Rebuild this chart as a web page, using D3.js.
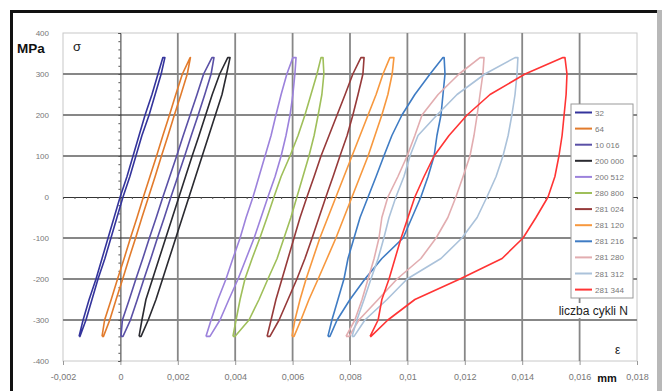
<!DOCTYPE html>
<html>
<head>
<meta charset="utf-8">
<script src="https://cdn.jsdelivr.net/npm/d3@7"></script>
<style>
  html, body { margin: 0; padding: 0; background: #fff; }
  svg { display: block; font-family: "Liberation Sans", Arial, sans-serif; }
</style>
</head>
<body>
<svg id="chart" width="662" height="391"></svg>
<script>
// Stress levels (MPa) at which each branch of a hysteresis loop is sampled
const stressLevels = [-340, -300, -250, -200, -150, -100, -50, 0, 50, 100, 150, 200, 250, 300, 340];

// Number of cycles for each recorded loop
const cycleLabels = ["32", "64", "10 016", "200 000", "200 512", "280 800",
                     "281 024", "281 120", "281 216", "281 280", "281 312", "281 344"];

const loopColors = ["#34349c", "#e27b2c", "#5a50a6", "#2a2a30", "#9c82dc", "#9fbf5a",
                    "#963a3a", "#f7983e", "#3f7cc4", "#e2adb0", "#abc2da", "#ff3434"];

// Strain (in 10^-3) on the loading branch, one value per stress level
const loadingBranch = [
  [-1.44, -1.30, -1.09, -0.85, -0.64, -0.43, -0.22, -0.01, 0.23, 0.44, 0.65, 0.86, 1.10, 1.31, 1.48],
  [-0.64, -0.55, -0.32, -0.10, 0.13, 0.35, 0.58, 0.80, 1.03, 1.26, 1.48, 1.71, 1.93, 2.16, 2.43],
  [0.02, 0.07, 0.31, 0.54, 0.78, 1.01, 1.25, 1.48, 1.72, 1.96, 2.19, 2.43, 2.67, 2.90, 3.19],
  [0.65, 0.75, 0.89, 1.12, 1.35, 1.58, 1.81, 2.04, 2.27, 2.50, 2.74, 2.97, 3.20, 3.46, 3.74],
  [2.98, 3.16, 3.40, 3.68, 3.92, 4.17, 4.38, 4.62, 4.83, 5.04, 5.25, 5.42, 5.60, 5.80, 6.01],
  [3.92, 4.03, 4.17, 4.34, 4.59, 4.86, 5.11, 5.35, 5.60, 5.91, 6.19, 6.43, 6.64, 6.85, 6.99],
  [5.11, 5.25, 5.42, 5.63, 5.84, 6.05, 6.26, 6.50, 6.75, 6.99, 7.27, 7.55, 7.83, 8.10, 8.38],
  [5.98, 6.08, 6.26, 6.47, 6.71, 6.95, 7.23, 7.51, 7.79, 8.07, 8.35, 8.63, 8.91, 9.15, 9.39],
  [7.23, 7.37, 7.58, 7.79, 7.93, 8.14, 8.35, 8.63, 8.91, 9.18, 9.46, 9.81, 10.26, 10.79, 11.24],
  [7.86, 8.17, 8.42, 8.63, 8.84, 9.01, 9.11, 9.32, 9.67, 9.99, 10.26, 10.51, 11.07, 11.80, 12.53],
  [8.07, 8.24, 8.49, 8.73, 8.98, 9.18, 9.36, 9.60, 9.88, 10.09, 10.37, 11.03, 11.73, 12.70, 13.75],
  [8.70, 8.98, 9.11, 9.36, 9.57, 9.78, 10.02, 10.26, 10.58, 10.93, 11.45, 12.08, 12.88, 14.10, 15.42]
];

// Strain (in 10^-3) on the unloading branch, one value per stress level
const unloadingBranch = [
  [-1.41, -1.20, -0.99, -0.78, -0.54, -0.33, -0.12, 0.09, 0.33, 0.54, 0.75, 1.00, 1.21, 1.42, 1.55],
  [-0.59, -0.37, -0.15, 0.08, 0.30, 0.53, 0.75, 0.98, 1.21, 1.43, 1.66, 1.88, 2.11, 2.33, 2.44],
  [0.09, 0.35, 0.59, 0.82, 1.06, 1.29, 1.53, 1.76, 2.00, 2.24, 2.47, 2.71, 2.94, 3.16, 3.26],
  [0.72, 0.97, 1.24, 1.47, 1.70, 1.93, 2.16, 2.39, 2.62, 2.85, 3.08, 3.31, 3.54, 3.70, 3.82],
  [3.12, 3.47, 3.78, 4.10, 4.38, 4.66, 4.90, 5.14, 5.39, 5.60, 5.77, 5.91, 6.01, 6.08, 6.12],
  [3.99, 4.48, 4.83, 5.14, 5.46, 5.70, 5.94, 6.15, 6.36, 6.57, 6.75, 6.89, 7.02, 7.09, 7.06],
  [5.21, 5.53, 5.84, 6.15, 6.43, 6.68, 6.92, 7.16, 7.41, 7.65, 7.90, 8.10, 8.28, 8.45, 8.49],
  [6.05, 6.29, 6.57, 6.89, 7.20, 7.51, 7.79, 8.07, 8.35, 8.63, 8.87, 9.11, 9.32, 9.47, 9.53],
  [7.30, 7.55, 8.00, 8.52, 9.11, 9.85, 10.16, 10.47, 10.72, 10.93, 11.03, 11.17, 11.24, 11.31, 11.28],
  [7.97, 8.31, 8.98, 9.64, 10.47, 11.00, 11.41, 11.69, 11.94, 12.18, 12.32, 12.43, 12.53, 12.63, 12.67],
  [8.14, 8.52, 9.29, 9.99, 11.17, 11.90, 12.43, 12.77, 13.09, 13.33, 13.51, 13.64, 13.75, 13.82, 13.85],
  [8.73, 9.32, 10.26, 11.83, 13.30, 14.03, 14.48, 14.90, 15.14, 15.28, 15.39, 15.46, 15.53, 15.56, 15.49]
];

const strainTicks = [-2, 0, 2, 4, 6, 8, 10, 12, 14, 16, 18];
const stressTicks = [-400, -300, -200, -100, 0, 100, 200, 300, 400];

const svg = d3.select("#chart");
const plot = { left: 63, right: 637, top: 33, bottom: 361 };

const x = d3.scaleLinear().domain([-2, 18]).range([plot.left, plot.right]);
const y = d3.scaleLinear().domain([-400, 400]).range([plot.bottom, plot.top]);

// Outer frame
svg.append("rect").attr("x", 0).attr("y", 0).attr("width", 662).attr("height", 391).attr("fill", "#fff");
svg.append("line").attr("x1", 10).attr("x2", 658).attr("y1", 11.5).attr("y2", 11.5)
  .attr("stroke", "#111").attr("stroke-width", 3);
svg.append("line").attr("x1", 11.5).attr("x2", 11.5).attr("y1", 10).attr("y2", 391)
  .attr("stroke", "#111").attr("stroke-width", 3);
svg.append("line").attr("x1", 659.5).attr("x2", 659.5).attr("y1", 10).attr("y2", 391)
  .attr("stroke", "#b8b8b8").attr("stroke-width", 5);

// Plot border
svg.append("rect").attr("x", plot.left).attr("y", plot.top)
  .attr("width", plot.right - plot.left).attr("height", plot.bottom - plot.top)
  .attr("fill", "none").attr("stroke", "#c8c8c8").attr("stroke-width", 1);

// Grid
const grid = svg.append("g");
grid.selectAll(".gx").data(strainTicks.filter(d => d !== 0 && d !== -2 && d !== 18)).join("line")
  .attr("x1", d => x(d)).attr("x2", d => x(d)).attr("y1", plot.top).attr("y2", plot.bottom)
  .attr("stroke", "#878787").attr("stroke-width", 1.8);
grid.selectAll(".gy").data(stressTicks.filter(d => d !== 0 && Math.abs(d) !== 400)).join("line")
  .attr("x1", plot.left).attr("x2", plot.right).attr("y1", d => y(d)).attr("y2", d => y(d))
  .attr("stroke", "#878787").attr("stroke-width", 1.8);

// Zero axes with minor ticks
const xAxis0 = d3.axisBottom(x).tickValues(d3.range(-2, 18.01, 0.4)).tickSize(2).tickFormat("");
svg.append("g").attr("transform", `translate(0,${y(0)})`).call(xAxis0)
  .call(g => g.select(".domain").attr("stroke", "#333").attr("stroke-width", 1))
  .call(g => g.selectAll(".tick line").attr("stroke", "#555"));
const yAxis0 = d3.axisLeft(y).tickValues(d3.range(-400, 401, 20)).tickSize(2).tickFormat("");
svg.append("g").attr("transform", `translate(${x(0)},0)`).call(yAxis0)
  .call(g => g.select(".domain").attr("stroke", "#333").attr("stroke-width", 1))
  .call(g => g.selectAll(".tick line").attr("stroke", "#555"));

// Bottom axis labels
const fmtStrain = d => d === 0 ? "0" : String(+(d / 1000).toFixed(3)).replace(".", ",");
const xAxis = d3.axisBottom(x).tickValues(strainTicks).tickSize(4).tickPadding(9).tickFormat(fmtStrain);
svg.append("g").attr("transform", `translate(0,${plot.bottom})`).call(xAxis)
  .call(g => g.select(".domain").remove())
  .call(g => g.selectAll(".tick line").attr("stroke", "#999"))
  .call(g => g.selectAll("text").attr("fill", "#777").attr("font-size", 9)
    .attr("font-family", "Liberation Sans, Arial, sans-serif"));

// Left axis labels
const yAxis = d3.axisLeft(y).tickValues(stressTicks).tickSize(0).tickPadding(14).tickFormat(d => String(d));
svg.append("g").attr("transform", `translate(${plot.left},0)`).call(yAxis)
  .call(g => g.select(".domain").remove())
  .call(g => g.selectAll("text").attr("fill", "#777").attr("font-size", 8)
    .attr("font-family", "Liberation Sans, Arial, sans-serif"));

// Hysteresis loops
const line = d3.line().x(d => x(d[0])).y(d => y(d[1]));
const loops = svg.append("g");
cycleLabels.forEach((label, i) => {
  const up = loadingBranch[i].map((s, k) => [s, stressLevels[k]]);
  const down = unloadingBranch[i].map((s, k) => [s, stressLevels[k]]).reverse();
  const pts = up.concat(down, [up[0]]);
  loops.append("path").datum(pts).attr("d", line)
    .attr("fill", "none").attr("stroke", loopColors[i]).attr("stroke-width", 1.6)
    .attr("stroke-linejoin", "round");
});

// Legend
const legend = svg.append("g").attr("transform", "translate(571,104)");
legend.append("rect").attr("width", 62).attr("height", 194)
  .attr("fill", "#fff").attr("stroke", "#9a9a9a").attr("stroke-width", 1);
cycleLabels.forEach((label, i) => {
  const ly = 8.5 + i * 16.1;
  legend.append("line").attr("x1", 4).attr("x2", 21).attr("y1", ly).attr("y2", ly)
    .attr("stroke", loopColors[i]).attr("stroke-width", 2);
  legend.append("text").attr("x", 24).attr("y", ly + 3).attr("font-size", 8)
    .attr("fill", "#777").text(label);
});

// Titles and units
const tb = svg.append("g");
tb.append("rect").attr("x", 546).attr("y", 303).attr("width", 86).attr("height", 15).attr("fill", "#fff");
tb.append("text").attr("x", 628).attr("y", 314.5).attr("text-anchor", "end")
  .attr("font-size", 12).attr("fill", "#222").text("liczba cykli N");
svg.append("text").attr("x", 17).attr("y", 53).attr("font-size", 13.5).attr("font-weight", "bold")
  .attr("fill", "#111").text("MPa");
svg.append("text").attr("x", 73).attr("y", 51).attr("font-size", 13)
  .attr("fill", "#222").text("σ");
svg.append("text").attr("x", 615).attr("y", 354).attr("font-size", 12)
  .attr("fill", "#222").text("ε");
svg.append("text").attr("x", 607).attr("y", 382).attr("text-anchor", "middle")
  .attr("font-size", 11).attr("font-weight", "bold").attr("fill", "#111").text("mm");
</script>
</body>
</html>
